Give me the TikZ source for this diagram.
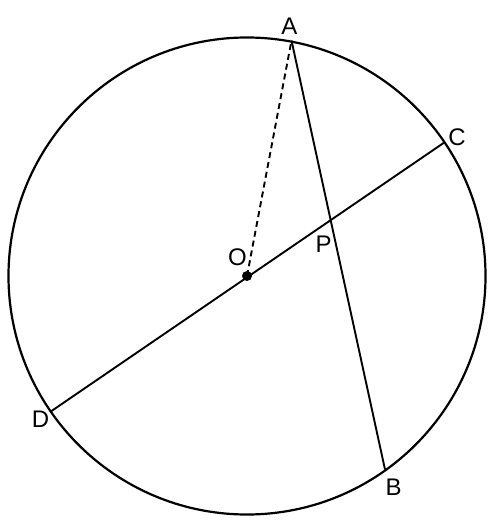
\documentclass[tikz,border=0pt]{standalone}
\usepackage{fontspec}
\setmainfont{Liberation Sans}
\begin{document}
\begin{tikzpicture}[x=1pt,y=-1pt,
  lbl/.style={inner sep=0pt,font=\fontsize{24}{24}\selectfont},
  seg/.style={line width=1.9pt},
  circ/.style={line width=2.2pt}]
\useasboundingbox (0,0) rectangle (497,521);
\coordinate (O) at (247,276);
\coordinate (A) at (291.5,40.5);
\coordinate (B) at (385,469.5);
\coordinate (C) at (445,142);
\coordinate (D) at (51.5,411);
\coordinate (P) at (intersection of A--B and C--D);
\draw[circ] (O) circle (238.5);
\draw[seg] (A) -- (B);
\draw[seg] (C) -- (D);
\draw[seg,dash pattern=on 6pt off 4pt] (O) -- (A);
\fill (O) circle (5);
\node[lbl] (lA) at (289.3,26) {A};
\node[lbl] (lB) at (393.5,487) {B};
\node[lbl] (lC) at (457,137.5) {C};
\node[lbl] (lD) at (40.5,419) {D};
\node[lbl] (lO) at (237.5,257) {O};
\node[lbl] (lP) at (323.5,244) {P};
\end{tikzpicture}
\end{document}
